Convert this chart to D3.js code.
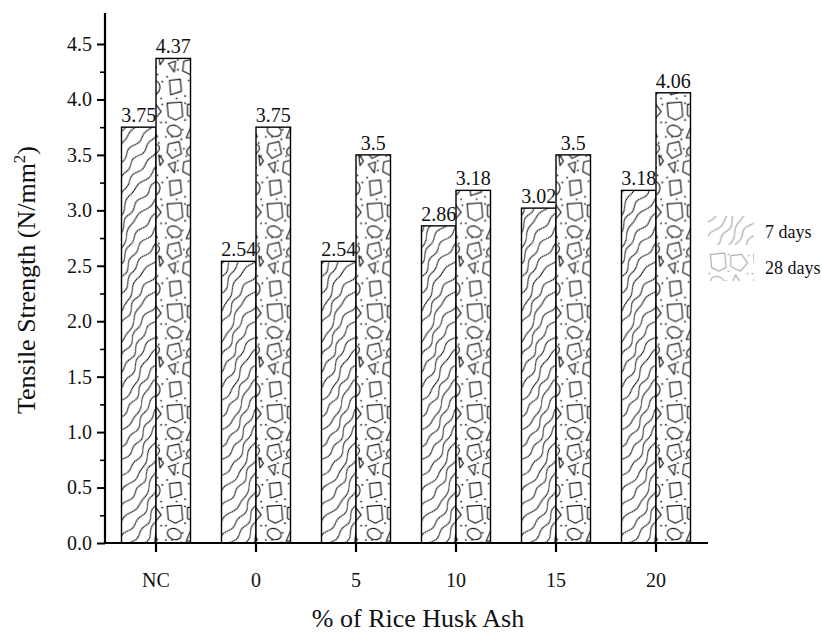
<!DOCTYPE html>
<html lang="en">
<head>
  <meta charset="UTF-8" />
  <title>Tensile Strength vs Rice Husk Ash</title>
  <script src="https://d3js.org/d3.v7.min.js"></script>
  <style>
    html, body {
      margin: 0;
      padding: 0;
      background: #fff;
      overflow: hidden;
    }
    svg {
      display: block;
    }
    svg text {
      font-family: "Liberation Serif", "Times New Roman", Times, "DejaVu Serif", serif;
    }
  </style>
</head>
<body>
<svg width="822" height="633"></svg>

<script>
const categories = ["NC", "0", "5", "10", "15", "20"];
const series = ["7 days", "28 days"];
const days7 = [3.75, 2.54, 2.54, 2.86, 3.02, 3.18];
const days28 = [4.37, 3.75, 3.5, 3.18, 3.5, 4.06];
const yTicks = [0, 0.5, 1.0, 1.5, 2.0, 2.5, 3.0, 3.5, 4.0, 4.5];

const rows = categories.map((c, i) => ({cat: c, values: [days7[i], days28[i]]}));

const serif = "'Liberation Serif', 'Times New Roman', Times, 'DejaVu Serif', serif";
const svg = d3.select("svg");
const x0 = 106, x1 = 706, yTop = 13, yBottom = 543;

const x = d3.scaleBand().domain(categories).range([x0, x1]).paddingInner(0.31).paddingOuter(0.155);
const xs = d3.scaleBand().domain(series).range([0, x.bandwidth()]);
const y = d3.scaleLinear().domain([0, 4.5]).range([yBottom, 44]);

const defs = svg.append("defs");

// 7 days: wavy diagonal contour-like lines
function wavyPattern(id, stroke, width) {
  const W = 64, H = 54;
  const p = defs.append("pattern")
    .attr("id", id)
    .attr("patternUnits", "userSpaceOnUse")
    .attr("width", W).attr("height", H)
    .attr("patternTransform", "rotate(-55)");
  p.append("rect").attr("width", W).attr("height", H).attr("fill", "#fff");
  const waves = [
    {a: 2.4, b: 1.4, f: 0.0, g: 1.2},
    {a: 3.0, b: 1.0, f: 0.9, g: 2.0},
    {a: 1.8, b: 1.7, f: 2.1, g: 0.4},
    {a: 3.2, b: 0.9, f: 3.0, g: 2.7},
    {a: 2.2, b: 1.5, f: 4.2, g: 1.5},
    {a: 2.0, b: 1.6, f: 5.1, g: 3.3}
  ];
  const step = H / waves.length;
  waves.forEach((w, k) => {
    const pts = d3.range(0, W + 1, 2).map(t => [
      t,
      k * step + step / 2 + w.a * Math.sin(2 * Math.PI * t / W + w.f) + w.b * Math.sin(6 * Math.PI * t / W + w.g)
    ]);
    p.append("path")
      .attr("d", d3.line().curve(d3.curveBasis)(pts))
      .attr("fill", "none")
      .attr("stroke", stroke)
      .attr("stroke-width", width);
  });
}

// 28 days: aggregate blobs with dots
function aggregatePattern(id, stroke, width) {
  const k = 1.2, W = 36 * k, H = 84 * k;
  const p = defs.append("pattern")
    .attr("id", id)
    .attr("patternUnits", "userSpaceOnUse")
    .attr("width", W).attr("height", H);
  p.append("rect").attr("width", W).attr("height", H).attr("fill", "#fff");
  const g = p.append("g").attr("transform", `scale(${k})`);
  const sw = width / k;
  const polys = [
    "M2,2 L14,1 L15,13 L9,16 L3,13 Z",
    "M19,3 L28,2 L33,9 L27,16 L19,12 Z",
    "M18,31 L23,19 L30,30 Z",
    "M3,36 L12,34 L14,44 L6,48 L2,43 Z",
    "M16,51 L24,49 L29,56 L23,63 L15,59 Z",
    "M3,53 L9,51 L8,60 Z",
    "M4,67 L13,66 L14,76 L5,79 Z",
    "M31,45 L35,50 L32,54 Z"
  ];
  polys.forEach(d => g.append("path").attr("d", d)
    .attr("fill", "#fff").attr("stroke", stroke).attr("stroke-width", sw)
    .attr("stroke-linejoin", "round"));
  const ells = [[8, 25, 6, 4.5, 20], [25, 41, 7, 4.5, -25], [27, 73, 5, 6, 10]];
  ells.forEach(e => g.append("ellipse")
    .attr("cx", e[0]).attr("cy", e[1]).attr("rx", e[2]).attr("ry", e[3])
    .attr("transform", `rotate(${e[4]},${e[0]},${e[1]})`)
    .attr("fill", "#fff").attr("stroke", stroke).attr("stroke-width", sw));
  const dots = [[17, 2], [34, 3], [17, 16], [1, 18], [33, 18], [15, 24], [14, 32], [31, 35],
    [1, 30], [16, 40], [33, 46], [18, 46], [11, 50], [2, 64], [20, 67], [30, 62],
    [17, 80], [33, 82], [10, 82], [22, 74], [34, 68], [11, 58], [6, 30], [22, 36], [9, 41]];
  dots.forEach(d => g.append("circle").attr("cx", d[0]).attr("cy", d[1]).attr("r", 0.75).attr("fill", stroke));
}

wavyPattern("p7", "#111", 1.0);
aggregatePattern("p28", "#111", 1.1);
wavyPattern("p7l", "#b0b0b0", 1.3);
aggregatePattern("p28l", "#b0b0b0", 1.2);

const fills = {"7 days": "url(#p7)", "28 days": "url(#p28)"};
const legendFills = {"7 days": "url(#p7l)", "28 days": "url(#p28l)"};

// bars
const group = svg.append("g").selectAll("g")
  .data(rows)
  .join("g")
  .attr("transform", d => `translate(${x(d.cat)},0)`);

group.selectAll("rect")
  .data(d => d.values.map((v, i) => ({key: series[i], value: v})))
  .join("rect")
  .attr("x", d => xs(d.key))
  .attr("y", d => y(d.value))
  .attr("width", xs.bandwidth())
  .attr("height", d => y(0) - y(d.value))
  .attr("fill", d => fills[d.key])
  .attr("stroke", "#000")
  .attr("stroke-width", 1.4);

group.selectAll("text")
  .data(d => d.values.map((v, i) => ({key: series[i], value: v})))
  .join("text")
  .attr("x", d => xs(d.key) + xs.bandwidth() / 2)
  .attr("y", d => y(d.value) - 5)
  .attr("text-anchor", "middle")
  .attr("font-family", serif)
  .attr("font-size", 20)
  .attr("fill", "#111")
  .text(d => d.value);

// y axis
const yAxis = svg.append("g")
  .attr("transform", `translate(${x0 - 1},0)`)
  .call(d3.axisLeft(y).tickValues(yTicks).tickFormat(d3.format(".1f")).tickSize(8).tickPadding(5))
  .call(g => g.select(".domain").remove())
  .attr("font-family", serif);
yAxis.selectAll(".tick line").attr("stroke", "#000").attr("stroke-width", 2);
yAxis.selectAll(".tick text").attr("font-size", 20).attr("fill", "#111");

svg.append("g")
  .attr("transform", `translate(${x0 - 1},0)`)
  .call(d3.axisLeft(y).tickValues(d3.range(0.25, 4.6, 0.5)).tickFormat("").tickSize(5))
  .call(g => g.select(".domain").remove())
  .selectAll(".tick line").attr("stroke", "#000").attr("stroke-width", 1.6);

svg.append("line")
  .attr("x1", x0 - 1).attr("x2", x0 - 1)
  .attr("y1", yTop).attr("y2", yBottom + 1)
  .attr("stroke", "#000").attr("stroke-width", 2.2);

// x axis
const xAxis = svg.append("g")
  .attr("transform", `translate(0,${yBottom})`)
  .call(d3.axisBottom(x).tickSize(9).tickPadding(21))
  .call(g => g.select(".domain").remove())
  .attr("font-family", serif);
xAxis.selectAll(".tick line").attr("stroke", "#000").attr("stroke-width", 2.2);
xAxis.selectAll(".tick text").attr("font-size", 20).attr("fill", "#111");

svg.append("line")
  .attr("x1", x0 - 2).attr("x2", x1 + 2)
  .attr("y1", yBottom).attr("y2", yBottom)
  .attr("stroke", "#000").attr("stroke-width", 2.2);

// axis titles
svg.append("text")
  .attr("x", 418)
  .attr("y", 627)
  .attr("text-anchor", "middle")
  .attr("font-family", serif)
  .attr("font-size", 26)
  .attr("fill", "#111")
  .text("% of Rice Husk Ash");

const yTitle = svg.append("text")
  .attr("transform", `translate(35,${(yTop + yBottom) / 2 + 2}) rotate(-90)`)
  .attr("text-anchor", "middle")
  .attr("font-family", serif)
  .attr("font-size", 26)
  .attr("fill", "#111");
yTitle.append("tspan").text("Tensile Strength (N/mm");
yTitle.append("tspan").attr("dy", -10).attr("font-size", 17).text("2");
yTitle.append("tspan").attr("dy", 10).text(")");

// legend
const legend = svg.append("g").attr("transform", "translate(708,216)");
const li = legend.selectAll("g")
  .data(series)
  .join("g")
  .attr("transform", (d, i) => `translate(0,${i * 36})`);
li.append("rect")
  .attr("width", 46).attr("height", 29)
  .attr("fill", d => legendFills[d]);
li.append("text")
  .attr("x", 57).attr("y", 22)
  .attr("font-family", serif)
  .attr("font-size", 18)
  .attr("fill", "#111")
  .text(d => d);
</script>
</body>
</html>
